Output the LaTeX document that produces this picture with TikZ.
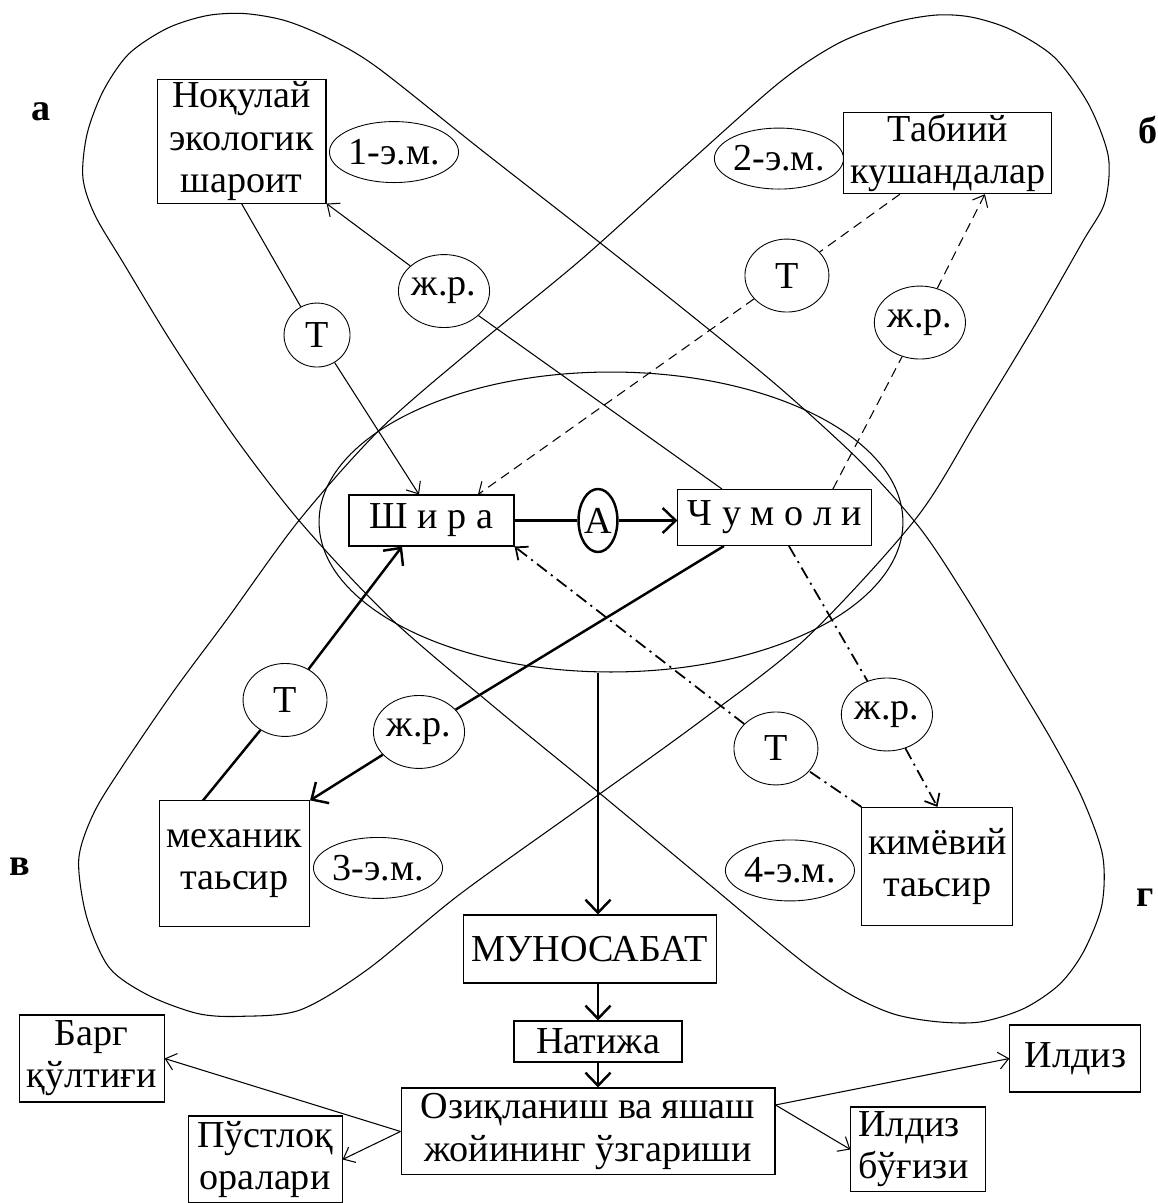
\documentclass[tikz,border=0pt]{standalone}
\usepackage{fontspec}
\setmainfont{Liberation Serif}
\usepackage{tikz}
\usetikzlibrary{shapes.geometric, arrows.meta, positioning, calc}
\tikzstyle{box} = [rectangle, draw=black, line width=0.6pt, align=center, inner sep=1pt]
\tikzstyle{oval} = [ellipse, draw=black, line width=0.5pt, inner sep=0pt, minimum width=2.34cm, minimum height=1.22cm]
\tikzstyle{linkcirc} = [ellipse, draw=black, line width=0.5pt, inner sep=0pt, minimum width=1.68cm, minimum height=1.46cm]
\tikzstyle{ringline} = [line width=0.6pt]
\tikzstyle{thinline} = [line width=0.6pt]
\tikzstyle{thickline} = [line width=1.4pt]
\tikzstyle{dashline} = [line width=0.6pt, dash pattern=on 5.5pt off 3.5pt]
\tikzstyle{dotline} = [line width=1pt, dash pattern=on 7pt off 3pt on 1.2pt off 3pt]
\tikzstyle{openhead} = [-{Straight Barb[length=0.2cm, width=0.34cm]}]
\tikzstyle{bighead} = [-{Straight Barb[length=0.26cm, width=0.5cm]}]
\tikzstyle{thinarrow} = [thinline, openhead]
\tikzstyle{bigarrow} = [thickline, bighead]
\tikzstyle{zonelabel} = [font=\fontsize{21.7}{24}\selectfont\bfseries]

\begin{document}
\begin{tikzpicture}[x=0.02cm, y=-0.02cm, node distance=2cm, font=\fontsize{21.7}{24}\selectfont]
\useasboundingbox (0,0) rectangle (1158,1203);

% crossing zones, drawn along their own axes
\begin{scope}[shift={(592,517)}, rotate=-45]
\draw [ringline] plot [smooth cycle, tension=0.5] coordinates {(-655,0) (-646,-45) (-627,-82) (-602,-110) (-568,-134) (-525,-152) (-470,-166) (-340,-181) (-210,-197) (-80,-212) (40,-224) (150,-229) (240,-224) (320,-208) (400,-188) (480,-168) (545,-148) (600,-122) (635,-86) (655,-40) (661,0) (653,42) (632,82) (602,112) (565,138) (520,155) (460,166) (330,178) (200,190) (70,203) (-70,214) (-200,210) (-310,196) (-420,174) (-510,152) (-565,138) (-600,120) (-628,86) (-647,44)};
\end{scope}
\begin{scope}[shift={(590,515)}, xscale=-1, rotate=-45]
\draw [ringline] plot [smooth cycle, tension=0.5] coordinates {(-598,-109) (-562,-134) (-509,-158) (-439,-172) (-306,-180) (-173,-187) (-40,-200) (86,-209) (209,-202) (330,-183) (418,-170) (508,-153) (562,-140) (605,-118) (640,-72) (660,-20) (652,27) (630,75) (602,107) (555,145) (479,164) (361,176) (215,200) (67,224) (-67,240) (-228,233) (-340,207) (-450,180) (-542,155) (-585,143) (-620,113) (-643,62) (-652,5) (-641,-45) (-622,-82)};
\end{scope}
\node (zone) [ellipse, draw=black, line width=0.6pt, inner sep=0pt, minimum width=11.68cm, minimum height=6cm] at (611,522) {};

\node (shira) [box, minimum width=3.3cm, minimum height=1.02cm] at (431.5,520.5) {Ш и р а};
\node (amark) [ellipse, draw=black, line width=1.4pt, inner sep=0pt, minimum width=0.76cm, minimum height=1.26cm, right of=shira, xshift=1.33cm] {А};
\node (chumoli) [box, minimum width=3.88cm, minimum height=1.12cm, right of=amark, xshift=1.54cm, yshift=0.06cm] {Ч у м о л и};

\node (t1) [linkcirc, minimum width=1.32cm, minimum height=1.28cm, above of=shira, xshift=-2.29cm, yshift=1.71cm] {Т};
\node (nokulai) [box, minimum width=3.38cm, minimum height=2.48cm, above of=t1, xshift=-1.51cm, yshift=1.88cm] {Ноқулай\\экологик\\шароит};
\node (em1) [oval, right of=nokulai, xshift=1.05cm, yshift=-0.22cm] {1-э.м.};
\node (jr1) [linkcirc, minimum width=1.6cm, right of=t1, xshift=0.54cm, yshift=0.88cm] {ж.р.};
\node (t2) [linkcirc, above of=chumoli, xshift=0.24cm, yshift=2.84cm] {Т};
\node (tabiiy) [box, minimum width=4.16cm, minimum height=1.62cm, above of=t2, xshift=3.22cm, yshift=0.45cm] {Табиий\\кушандалар};
\node (em2) [oval, left of=tabiiy, xshift=-1.38cm, yshift=-0.11cm] {2-э.м.};
\node (jr2) [linkcirc, right of=t2, xshift=0.66cm, yshift=-0.94cm] {ж.р.};
\node (t3) [linkcirc, below of=shira, xshift=-2.93cm, yshift=-1.59cm] {Т};
\node (mexanik) [box, minimum width=3cm, minimum height=2.52cm, below of=t3, xshift=-1.01cm, yshift=-1.28cm] {механик\\таьсир};
\node (em3) [oval, right of=mexanik, xshift=0.87cm, yshift=-0.08cm] {3-э.м.};
\node (jr3) [linkcirc, right of=t3, xshift=0.68cm, yshift=-0.64cm] {ж.р.};
\node (t4) [linkcirc, below of=chumoli, xshift=0.02cm, yshift=-2.62cm] {Т};
\node (jr4) [linkcirc, right of=t4, xshift=0.22cm, yshift=0.68cm] {ж.р.};
\node (kimyo) [box, minimum width=3.02cm, minimum height=2.36cm, below of=jr4, xshift=1.01cm, yshift=-1.04cm] {кимёвий\\таьсир};
\node (em4) [oval, left of=kimyo, xshift=-0.95cm, yshift=-0.08cm] {4-э.м.};

\node (munosabat) [box, minimum width=5.06cm, minimum height=1.36cm] at (590,949) {МУНОСАБАТ};
\node (natija) [box, minimum width=3.36cm, minimum height=0.82cm, below of=munosabat, xshift=0.16cm, yshift=0.15cm] {Натижа};
\node (oziq) [box, minimum width=7.48cm, minimum height=1.74cm, below of=natija, xshift=-0.2cm, yshift=0.2cm] {Озиқланиш ва яшаш\\жойининг ўзгариши};
\node (barg) [box, minimum width=2.9cm, minimum height=1.74cm, left of=oziq, xshift=-7.93cm, yshift=1.46cm] {Барг\\қўлтиғи};
\node (pustloq) [box, minimum width=3.08cm, minimum height=1.74cm, left of=oziq, xshift=-4.46cm, yshift=-0.56cm] {Пўстлоқ\\оралари};
\node (ildizb) [box, align=left, text width=2.4cm, inner xsep=0.15cm, minimum height=1.7cm, right of=oziq, xshift=4.61cm, yshift=-0.36cm] {Илдиз\\бўғизи};
\node (ildiz) [box, minimum width=2.62cm, minimum height=1.34cm, right of=oziq, xshift=7.75cm, yshift=1.46cm] {Илдиз};

\node (la) [zonelabel] at (41,112) {а};
\node (lb) [zonelabel] at (1148,130) {б};
\node (lv) [zonelabel] at (20,867) {в};
\node (lg) [zonelabel] at (1145,898) {г};

% Arrows
\draw [thickline] (shira.east) -- (amark);
\draw [bigarrow] (amark) -- (amark -| chumoli.west);
\draw [thinline] (nokulai.south) -- (t1);
\draw [thinarrow] (t1) -- ([xshift=-0.25cm]shira.north);
\draw [thinline] ([xshift=-1.06cm]chumoli.north) -- (jr1);
\draw [thinarrow] (jr1) -- (nokulai.south east);
\draw [dashline] ([xshift=1.16cm]chumoli.north) -- (jr2);
\draw [dashline, openhead] (jr2) -- ([xshift=0.74cm]tabiiy.south);
\draw [dashline] ([xshift=-0.96cm]tabiiy.south) -- (t2);
\draw [dashline, openhead] (t2) -- ([xshift=0.93cm]shira.north);
\draw [thickline] ([xshift=-0.63cm]mexanik.north) -- (t3);
\draw [bigarrow] (t3) -- ([xshift=-0.59cm]shira.south);
\draw [thickline] ([xshift=-1.02cm]chumoli.south) -- (jr3);
\draw [bigarrow] (jr3) -- (mexanik.north east);
\draw [dotline] (kimyo.north west) -- (t4);
\draw [dotline, openhead] (t4) -- (shira.south east);
\draw [dotline] ([xshift=0.28cm]chumoli.south) -- (jr4);
\draw [dotline, openhead] (jr4) -- (kimyo.north);
\draw [bigarrow] (natija |- zone.south) -- (natija |- munosabat.north);
\draw [bigarrow] (natija |- munosabat.south) -- (natija.north);
\draw [bigarrow] (natija.south) -- (natija |- oziq.north);
\draw [thinarrow] (oziq.west) -- (barg.east);
\draw [thinarrow] (oziq.west) -- (pustloq.east);
\draw [thinarrow] ([yshift=0.53cm]oziq.east) -- (ildiz.west);
\draw [thinarrow] ([yshift=0.53cm]oziq.east) -- (ildizb.west);

\end{tikzpicture}
\end{document}
